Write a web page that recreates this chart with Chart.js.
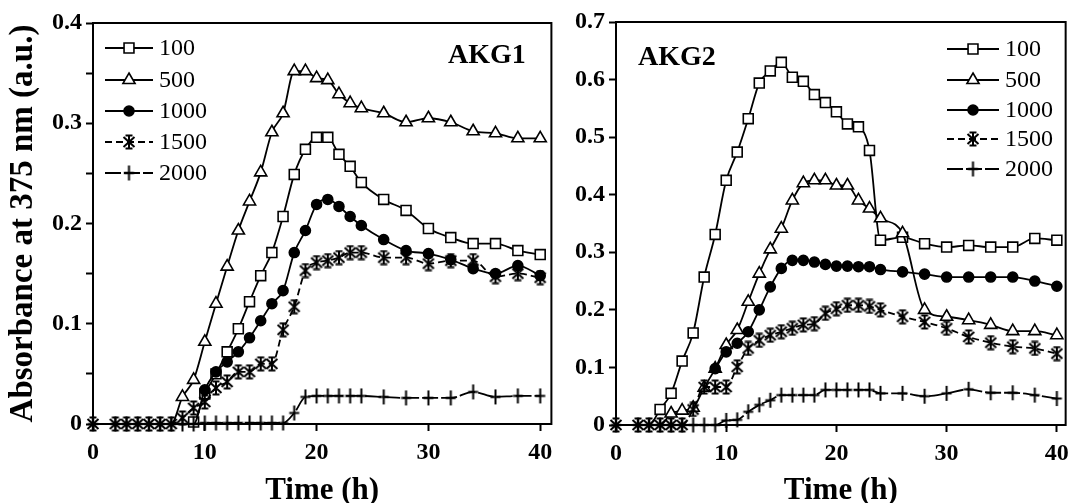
<!DOCTYPE html>
<html>
<head>
<meta charset="utf-8">
<script src="https://cdn.jsdelivr.net/npm/chart.js@4.4.1/dist/chart.umd.min.js"></script>
<style>
    html, body { margin: 0; padding: 0; background: #fff; }
    #contenedor { position: relative; width: 1076px; height: 503px; overflow: hidden; }
    canvas { position: absolute; top: 0; }
    #graficoAkg1 { left: 0; }
    #graficoAkg2 { left: 560px; }
</style>
</head>
<body>
<div id="contenedor">
    <canvas id="graficoAkg1" width="560" height="503"></canvas>
    <canvas id="graficoAkg2" width="516" height="503"></canvas>
</div>
<script>
// DATOS (tiempo en horas, absorbancia a 375 nm)
const horas = [0, 2, 3, 4, 5, 6, 7, 8, 9, 10, 11, 12, 13, 14, 15, 16, 17, 18, 19, 20, 21, 22, 23, 24, 26, 28, 30, 32, 34, 36, 38, 40];
const concentraciones = ['100', '500', '1000', '1500', '2000'];

const akg1_100 = [0, 0, 0, 0, 0, 0, 0, 0, 0.002, 0.03, 0.05, 0.072, 0.095, 0.122, 0.148, 0.171, 0.207, 0.249, 0.274, 0.286, 0.286, 0.269, 0.257, 0.241, 0.224, 0.213, 0.195, 0.186, 0.18, 0.18, 0.173, 0.169];
const akg1_500 = [0, 0, 0, 0, 0, 0, 0, 0.027, 0.044, 0.082, 0.12, 0.157, 0.193, 0.222, 0.251, 0.291, 0.31, 0.352, 0.352, 0.345, 0.343, 0.329, 0.32, 0.315, 0.31, 0.301, 0.305, 0.301, 0.292, 0.29, 0.285, 0.285];
const akg1_1000 = [0, 0, 0, 0, 0, 0, 0, 0, 0, 0.034, 0.052, 0.062, 0.072, 0.086, 0.103, 0.12, 0.133, 0.171, 0.193, 0.219, 0.224, 0.217, 0.207, 0.198, 0.184, 0.173, 0.17, 0.164, 0.155, 0.15, 0.158, 0.148];
const akg1_1500 = [0, 0, 0, 0, 0, 0, 0, 0.006, 0.016, 0.022, 0.036, 0.042, 0.052, 0.052, 0.06, 0.06, 0.094, 0.117, 0.153, 0.161, 0.163, 0.166, 0.171, 0.171, 0.166, 0.166, 0.16, 0.163, 0.163, 0.147, 0.15, 0.146];
const akg1_2000 = [0, 0, 0, 0, 0, 0, 0, 0, 0, 0.001, 0.001, 0.001, 0.001, 0.001, 0.001, 0.001, 0.001, 0.011, 0.027, 0.028, 0.028, 0.028, 0.028, 0.028, 0.027, 0.026, 0.026, 0.026, 0.032, 0.027, 0.028, 0.028];

const akg2_100 = [0, 0, 0, 0.027, 0.055, 0.111, 0.16, 0.257, 0.331, 0.425, 0.474, 0.532, 0.594, 0.615, 0.63, 0.604, 0.597, 0.574, 0.56, 0.544, 0.523, 0.518, 0.477, 0.321, 0.326, 0.315, 0.309, 0.312, 0.309, 0.309, 0.324, 0.321];
const akg2_500 = [0, 0, 0, 0, 0.02, 0.025, 0.03, 0.065, 0.098, 0.139, 0.165, 0.214, 0.263, 0.305, 0.341, 0.39, 0.42, 0.425, 0.425, 0.416, 0.416, 0.39, 0.376, 0.359, 0.333, 0.2, 0.188, 0.182, 0.174, 0.163, 0.163, 0.156];
const akg2_1000 = [null, null, null, null, null, null, null, null, 0.098, 0.127, 0.142, 0.162, 0.2, 0.24, 0.272, 0.286, 0.286, 0.283, 0.279, 0.276, 0.276, 0.275, 0.275, 0.27, 0.266, 0.262, 0.257, 0.257, 0.257, 0.257, 0.25, 0.241];
const akg2_1500 = [0, 0, 0, 0, 0, 0, 0.027, 0.066, 0.066, 0.066, 0.101, 0.133, 0.147, 0.156, 0.162, 0.168, 0.174, 0.176, 0.194, 0.202, 0.208, 0.208, 0.206, 0.2, 0.188, 0.179, 0.168, 0.153, 0.143, 0.136, 0.133, 0.124];
const akg2_2000 = [0, 0, 0, 0, 0, 0, 0, 0, 0, 0.008, 0.009, 0.023, 0.035, 0.043, 0.052, 0.052, 0.052, 0.052, 0.061, 0.061, 0.061, 0.061, 0.061, 0.055, 0.055, 0.05, 0.055, 0.062, 0.056, 0.056, 0.052, 0.046];

const ticksX = [0, 10, 20, 30, 40];
const ticksYAkg1 = [0, 0.05, 0.1, 0.15, 0.2, 0.25, 0.3, 0.35, 0.4];
const ticksYAkg2 = [0, 0.1, 0.2, 0.3, 0.4, 0.5, 0.6, 0.7];

const fuente = 'Liberation Serif';

// Marcadores dibujados a mano (asterisco y cruz alta)
function crearAsterisco() {
    const c = document.createElement('canvas');
    c.width = 16;
    c.height = 16;
    const g = c.getContext('2d');
    g.strokeStyle = '#000';
    g.lineWidth = 2;
    g.beginPath();
    g.moveTo(8, 1); g.lineTo(8, 15);
    g.moveTo(2.5, 3); g.lineTo(13.5, 13);
    g.moveTo(13.5, 3); g.lineTo(2.5, 13);
    g.moveTo(4.5, 1.5); g.lineTo(11.5, 1.5);
    g.moveTo(4.5, 14.5); g.lineTo(11.5, 14.5);
    g.stroke();
    return c;
}

function crearCruz() {
    const c = document.createElement('canvas');
    c.width = 13;
    c.height = 17;
    const g = c.getContext('2d');
    g.strokeStyle = '#000';
    g.lineWidth = 2;
    g.beginPath();
    g.moveTo(6.5, 1); g.lineTo(6.5, 16);
    g.moveTo(1.5, 8.5); g.lineTo(11.5, 8.5);
    g.stroke();
    return c;
}

const asterisco = crearAsterisco();
const cruz = crearCruz();

// Estilo de cada serie (mismo orden que concentraciones)
const estilos = [
    { pointStyle: 'rect', pointRadius: 7, pointBackgroundColor: '#fff', borderDash: [], orden: 4, ocultarCeros: true },
    { pointStyle: 'triangle', pointRadius: 7, pointBackgroundColor: '#fff', borderDash: [], orden: 3, ocultarCeros: true },
    { pointStyle: 'circle', pointRadius: 5, pointBackgroundColor: '#000', borderDash: [], orden: 2, ocultarCeros: true },
    { pointStyle: asterisco, pointRadius: 7, pointBackgroundColor: '#000', borderDash: [7, 4], orden: 0, ocultarCeros: false },
    { pointStyle: cruz, pointRadius: 7, pointBackgroundColor: '#000', borderDash: [16, 3], orden: 1, ocultarCeros: false }
];

// Las series que arrancan tarde no muestran marcador sobre la línea base
function radios(valores, estilo) {
    let arranco = false;
    return valores.map(v => {
        if (v > 0) arranco = true;
        return (estilo.ocultarCeros && !arranco) ? 0 : estilo.pointRadius;
    });
}

function armarDatasets(series) {
    return series.map((valores, i) => ({
        label: concentraciones[i],
        data: horas.map((h, j) => ({ x: h, y: valores[j] })),
        order: estilos[i].orden,
        borderColor: '#000',
        borderWidth: 1.8,
        borderDash: estilos[i].borderDash,
        pointStyle: estilos[i].pointStyle,
        pointRadius: radios(valores, estilos[i]),
        radioLeyenda: estilos[i].pointRadius,
        pointBackgroundColor: estilos[i].pointBackgroundColor,
        pointBorderColor: '#000',
        pointBorderWidth: 1.6,
        cubicInterpolationMode: 'monotone',
        clip: false
    }));
}

// Dibuja un marcador para la leyenda
function dibujarMarcador(ctx, ds, x, y) {
    const estilo = ds.pointStyle;
    const r = ds.radioLeyenda;
    if (typeof estilo !== 'string') {
        ctx.drawImage(estilo, x - estilo.width / 2, y - estilo.height / 2);
        return;
    }
    ctx.beginPath();
    if (estilo === 'rect') {
        const s = Math.SQRT1_2 * r;
        ctx.rect(x - s, y - s, 2 * s, 2 * s);
    } else if (estilo === 'triangle') {
        ctx.moveTo(x, y - r);
        ctx.lineTo(x + r * Math.sin(2 * Math.PI / 3), y - r * Math.cos(2 * Math.PI / 3));
        ctx.lineTo(x + r * Math.sin(4 * Math.PI / 3), y - r * Math.cos(4 * Math.PI / 3));
        ctx.closePath();
    } else {
        ctx.arc(x, y, r, 0, Math.PI * 2);
    }
    ctx.fillStyle = ds.pointBackgroundColor;
    ctx.fill();
    ctx.lineWidth = ds.pointBorderWidth;
    ctx.strokeStyle = '#000';
    ctx.stroke();
}

// Marco completo, etiqueta del panel y leyenda interna
const pluginMarco = {
    id: 'marco',
    afterDraw(chart, args, opts) {
        const ctx = chart.ctx;
        const a = chart.chartArea;
        ctx.save();
        ctx.strokeStyle = '#000';
        ctx.lineWidth = 2;
        ctx.setLineDash([]);
        ctx.strokeRect(a.left, a.top, a.right - a.left, a.bottom - a.top);

        ctx.fillStyle = '#000';
        ctx.font = `bold 28px "${fuente}"`;
        ctx.textBaseline = 'alphabetic';
        ctx.textAlign = 'left';
        ctx.fillText(opts.etiqueta, opts.etiquetaX, opts.etiquetaY);

        chart.data.datasets.forEach((ds, i) => {
            const y = opts.leyendaY[i];
            ctx.strokeStyle = '#000';
            ctx.lineWidth = 1.8;
            ctx.setLineDash(ds.borderDash);
            ctx.beginPath();
            ctx.moveTo(opts.leyendaX0, y);
            ctx.lineTo(opts.leyendaX1, y);
            ctx.stroke();
            ctx.setLineDash([]);
            dibujarMarcador(ctx, ds, (opts.leyendaX0 + opts.leyendaX1) / 2, y);
            ctx.fillStyle = '#000';
            ctx.font = `24px "${fuente}"`;
            ctx.textBaseline = 'middle';
            ctx.fillText(ds.label, opts.leyendaX1 + 6, y + 1);
        });
        ctx.restore();
    }
};

function formatoY(value) {
    if (value === 0) return '0';
    const d = value * 10;
    return Math.abs(d - Math.round(d)) < 1e-6 ? value.toFixed(1) : '';
}

function crearGrafico(idCanvas, series, cfg) {
    const grilla = { drawOnChartArea: false, drawTicks: true, tickLength: 7, tickWidth: 2, tickColor: '#000' };
    const borde = { display: true, color: '#000', width: 2 };
    const fuenteTicks = { family: fuente, size: 24, weight: 'bold' };

    return new Chart(document.getElementById(idCanvas).getContext('2d'), {
        type: 'line',
        data: { datasets: armarDatasets(series) },
        options: {
            responsive: false,
            animation: false,
            layout: { padding: { top: cfg.arriba, right: cfg.derecha, left: 0, bottom: 0 } },
            plugins: {
                legend: { display: false },
                tooltip: { enabled: false },
                marco: cfg.marco
            },
            scales: {
                x: {
                    type: 'linear',
                    min: 0,
                    max: cfg.maxX,
                    afterBuildTicks: s => { s.ticks = ticksX.map(v => ({ value: v })); },
                    afterFit: s => { s.height = cfg.altoX; },
                    grid: grilla,
                    border: borde,
                    ticks: { color: '#000', font: fuenteTicks, padding: 7, maxRotation: 0 },
                    title: {
                        display: true,
                        text: 'Time (h)',
                        color: '#000',
                        font: { family: fuente, size: 31, weight: 'bold', lineHeight: 0.8 },
                        padding: 0
                    }
                },
                y: {
                    type: 'linear',
                    min: 0,
                    max: cfg.maxY,
                    afterBuildTicks: s => { s.ticks = cfg.ticksY.map(v => ({ value: v })); },
                    afterFit: s => { s.width = cfg.anchoY; },
                    grid: grilla,
                    border: borde,
                    ticks: { color: '#000', font: fuenteTicks, padding: 4, callback: formatoY },
                    title: {
                        display: cfg.tituloY,
                        text: 'Absorbance at 375 nm (a.u.)',
                        color: '#000',
                        font: { family: fuente, size: 33, weight: 'bold', lineHeight: 1.2 },
                        padding: { top: 4, bottom: 0 }
                    }
                }
            }
        },
        plugins: [pluginMarco]
    });
}

// PANEL AKG1
const graficoAkg1 = crearGrafico('graficoAkg1', [akg1_100, akg1_500, akg1_1000, akg1_1500, akg1_2000], {
    arriba: 23, derecha: 6, altoX: 79, anchoY: 93, maxX: 41, maxY: 0.4,
    ticksY: ticksYAkg1, tituloY: true,
    marco: {
        etiqueta: 'AKG1', etiquetaX: 448, etiquetaY: 63,
        leyendaX0: 105, leyendaX1: 153, leyendaY: [48, 80, 111, 142, 173]
    }
});

// PANEL AKG2
const graficoAkg2 = crearGrafico('graficoAkg2', [akg2_100, akg2_500, akg2_1000, akg2_1500, akg2_2000], {
    arriba: 22, derecha: 6, altoX: 78, anchoY: 56, maxX: 40.8, maxY: 0.7,
    ticksY: ticksYAkg2, tituloY: false,
    marco: {
        etiqueta: 'AKG2', etiquetaX: 78, etiquetaY: 65,
        leyendaX0: 387, leyendaX1: 439, leyendaY: [49, 80, 110, 139, 169]
    }
});
</script>
</body>
</html>
